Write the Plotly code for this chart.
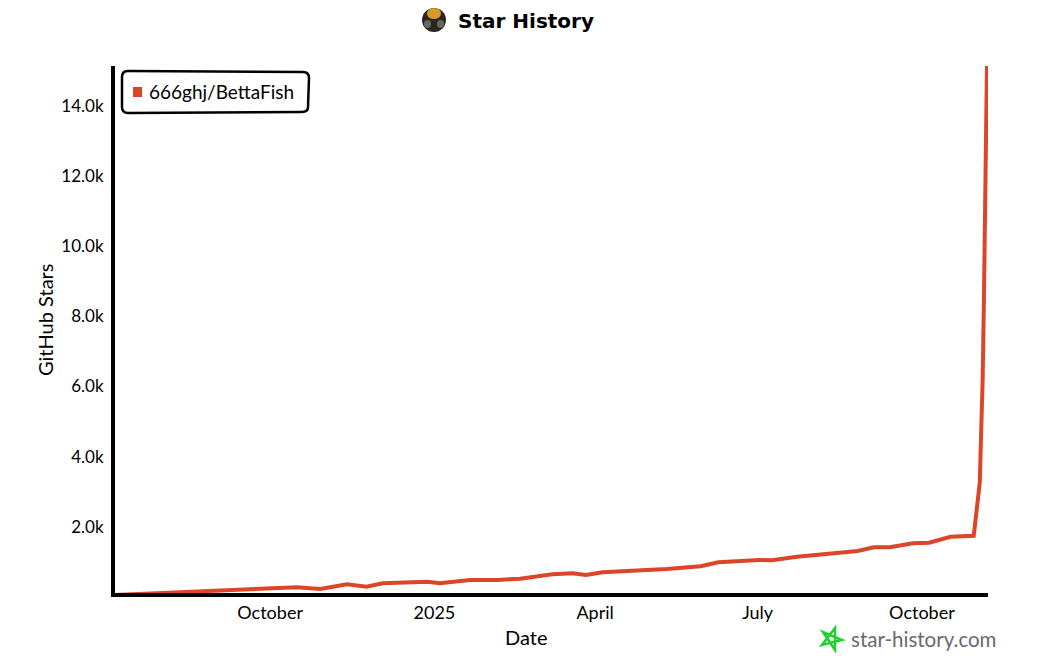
import plotly.graph_objects as go

dates = ["2024-07-05", "2024-08-04", "2024-08-28", "2024-09-20", "2024-10-16", "2024-10-29",
         "2024-11-13", "2024-11-24", "2024-12-03", "2024-12-28", "2025-01-04", "2025-01-21",
         "2025-02-05", "2025-02-18", "2025-03-08", "2025-03-19", "2025-03-27", "2025-04-05",
         "2025-04-22", "2025-05-11", "2025-05-30", "2025-06-09", "2025-07-02", "2025-07-09",
         "2025-07-23", "2025-08-26", "2025-09-04", "2025-09-13", "2025-09-26", "2025-10-05",
         "2025-10-17", "2025-10-30", "2025-11-01 07:00", "2025-11-02 10:00", "2025-11-03",
         "2025-11-04", "2025-11-04 17:00", "2025-11-05 05:00", "2025-11-05 19:00", "2025-11-06 10:00"]
stars = [57, 123, 151, 200, 277, 228, 362, 294, 391, 436, 391, 485, 485, 522, 647, 676, 627, 704,
         750, 798, 878, 989, 1055, 1046, 1149, 1311, 1417, 1417, 1531, 1548, 1719, 1747, 2765,
         3278, 4419, 6186, 8466, 10177, 12740, 15137]

tick_dates = ["2024-10-01", "2025-01-01", "2025-04-01", "2025-07-01", "2025-10-01"]
tick_names = ["October", "2025", "April", "July", "October"]
y_ticks = [2000, 4000, 6000, 8000, 10000, 12000, 14000]
y_names = ["2.0k", "4.0k", "6.0k", "8.0k", "10.0k", "12.0k", "14.0k"]
series_name = "666ghj/BettaFish"
red = "#dd4528"

# plot area on the page is 115..988 x 66..593, helpers for the decorations around it
def px(x):
    return (x - 115) / 873

def py(y):
    return (593 - y) / 527

def circle(fig, x0, x1, y0, y1, color):
    fig.add_shape(type="circle", xref="paper", yref="paper", x0=px(x0), x1=px(x1),
                  y0=py(y1), y1=py(y0), fillcolor=color, line=dict(width=0))

def note(fig, text, x, y, size, color="black", family="Lato"):
    fig.add_annotation(text=text, xref="paper", yref="paper", x=px(x), y=py(y), xanchor="left",
                       yanchor="middle", showarrow=False,
                       font=dict(size=size, color=color, family=family))

fig = go.Figure()
fig.add_trace(go.Scatter(x=dates, y=stars, mode="lines", name=series_name, cliponaxis=False,
                         line=dict(color=red, width=4), showlegend=False))

fig.update_xaxes(range=["2024-07-06 03:00", "2025-11-07"], tickvals=tick_dates, ticktext=tick_names,
                 showgrid=False, zeroline=False, showline=True, linecolor="black", linewidth=4,
                 ticks="", tickfont=dict(size=18))
fig.update_yaxes(range=[114, 15137], tickvals=y_ticks, ticktext=y_names, ticklabelstandoff=4,
                 showgrid=False, zeroline=False, showline=True, linecolor="black", linewidth=4,
                 ticks="", tickfont=dict(size=17))

# legend box, drawn by hand because plotly's swatch is too wide
box = (f"M {px(122)},{py(77)} Q {px(122)},{py(71)} {px(128)},{py(71)} "
       f"L {px(303)},{py(72)} Q {px(309)},{py(72)} {px(309)},{py(78)} "
       f"L {px(308)},{py(107)} Q {px(308)},{py(112)} {px(302)},{py(112)} "
       f"L {px(128)},{py(113)} Q {px(122)},{py(113)} {px(122)},{py(107)} Z")
fig.add_shape(type="path", xref="paper", yref="paper", path=box, fillcolor="white",
              line=dict(color="black", width=2.5))
fig.add_shape(type="path", xref="paper", yref="paper", fillcolor=red, line=dict(color=red, width=2),
              path=f"M {px(134)},{py(88)} L {px(141)},{py(88)} L {px(141)},{py(96)} L {px(134)},{py(96)} Z")
note(fig, series_name, 147, 91, 19)

# title with avatar, top kept under the page's 8px body margin so nothing is clipped
circle(fig, 422, 446, 8, 32, "#2b2620")
circle(fig, 427, 441, 8, 19, "#d8992a")
circle(fig, 424, 431, 20, 28, "#6a6660")
circle(fig, 437, 444, 20, 28, "#6a6660")
note(fig, "<b>Star History</b>", 456, 21, 20, family="DejaVu Sans")

# axis titles sit off centre in the original
note(fig, "Date", 503, 637, 20)
fig.add_annotation(text="GitHub Stars", xref="paper", yref="paper", x=px(45), y=py(320),
                   xanchor="center", yanchor="middle", showarrow=False, textangle=-90,
                   font=dict(size=20, color="black"))

# star-history.com mark
star = [(835, 628), (835, 650), (823, 632), (842, 640), (822, 645)]
star_path = "M " + " L ".join(f"{px(x)},{py(y)}" for x, y in star) + " Z"
fig.add_shape(type="path", xref="paper", yref="paper", path=star_path,
              line=dict(color="#1fd02f", width=2.5))
note(fig, "star-history.com", 849, 639, 20.5, color="#666a70")

# the page adds 8px of body margin, so the figure is 16px smaller than the window
fig.update_layout(width=1024, height=645, paper_bgcolor="white", plot_bgcolor="white",
                  margin=dict(l=107, r=44, t=58, b=60), showlegend=False,
                  font=dict(family="Lato", size=17, color="black"))

fig.write_html("out.html")
